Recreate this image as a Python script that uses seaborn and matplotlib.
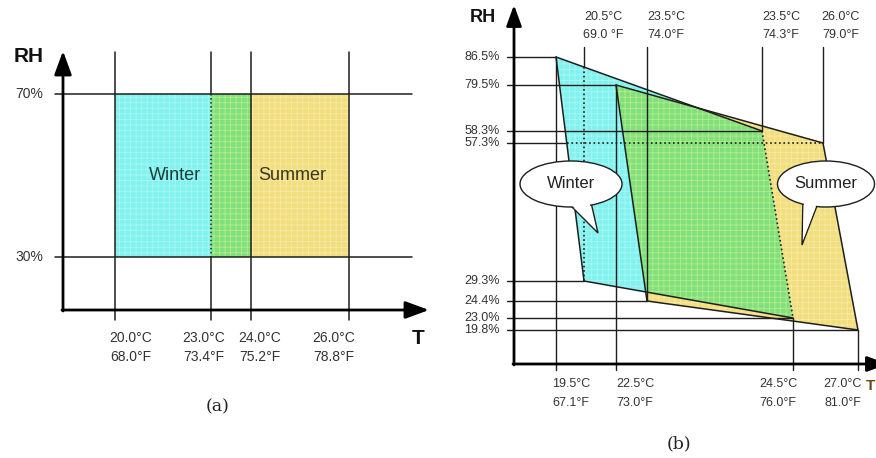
import numpy as np
import pandas as pd
import matplotlib.pyplot as plt
import seaborn as sns
from matplotlib.patches import Polygon, Ellipse

sns.set_theme(style="white")
plt.rcParams['font.family'] = ['Liberation Sans', 'DejaVu Sans']
plt.rcParams['hatch.linewidth'] = 0.6

# ---------------- panel (a) values ----------------
a_temp_c = [20.0, 23.0, 24.0, 26.0]
a_temp_f = [68.0, 73.4, 75.2, 78.8]
a_rh = [70, 30]
a_winter_t = [20.0, 24.0]
a_summer_t = [23.0, 26.0]

# ---------------- panel (b) values ----------------
b_rh = [86.5, 79.5, 58.3, 57.3, 29.3, 24.4, 23.0, 19.8]
b_temp_c = [19.5, 20.5, 22.5, 23.5, 23.5, 24.5, 26.0, 27.0]
b_temp_f = [67.1, 69.0, 73.0, 74.0, 74.3, 76.0, 79.0, 81.0]
winter_f = [67.1, 74.3, 76.0, 69.0]
winter_rh = [86.5, 58.3, 23.0, 29.3]
summer_f = [73.0, 79.0, 81.0, 74.0]
summer_rh = [79.5, 57.3, 19.8, 24.4]

# schematic layout (diagram is not to scale), in figure pixels
a_x = [115, 211, 251, 349]
a_y = [94, 257]
a_lab_x = [131, 204, 260, 334]
b_x = [556, 584, 616, 647, 762, 793, 823, 858]
b_y = [57, 85, 131, 143, 281, 301, 318, 330]
b_lab_x = [571, 603, 635, 666, 781, 778, 841, 843]
b_lab_top = [False, True, False, True, True, False, True, False]

CYAN, GREEN, YELLOW = '#82F2EE', '#80E07E', '#F2DE7C'
LINE = '#1e1e1e'
TXT = '#333333'

ax_pos = dict(zip(a_temp_c, a_x))
ay_pos = dict(zip(a_rh, a_y))
bx_pos = dict(zip(b_temp_f, b_x))
by_pos = dict(zip(b_rh, b_y))

fig = plt.figure(figsize=(8.76, 4.58), dpi=100)
ax = fig.add_axes([0, 0, 1, 1])


def seg_frame(segs):
    rows = []
    for i, (xs, ys) in enumerate(segs):
        for x, y in zip(xs, ys):
            rows.append({'x': x, 'y': y, 'seg': i})
    return pd.DataFrame(rows)


def draw_segs(segs, ls='-', lw=1.0, z=3):
    if not segs:
        return
    df = seg_frame(segs)
    sns.lineplot(data=df, x='x', y='y', units='seg', estimator=None, sort=False,
                 color=LINE, linewidth=lw, linestyle=ls, legend=False, ax=ax, zorder=z)


def fill_poly(verts, color, hatch_color, clip=None, z=2):
    p = Polygon(verts, closed=True, facecolor=color, edgecolor='none', lw=0, zorder=z)
    h = Polygon(verts, closed=True, fill=False, hatch='+++', edgecolor=hatch_color, lw=0, zorder=z + 0.05)
    ax.add_patch(p)
    ax.add_patch(h)
    if clip is not None:
        p.set_clip_path(clip)
        h.set_clip_path(clip)
    return p


def arrow(start, tip, lw=2.0, scale=16):
    ax.annotate('', xy=tip, xytext=start, annotation_clip=False,
                arrowprops=dict(arrowstyle='-|>,head_length=0.9,head_width=0.33',
                                color='black', lw=lw, mutation_scale=scale,
                                shrinkA=0, shrinkB=0), zorder=6)


# ================= panel (a) =================
ya0, ya1 = ay_pos[70], ay_pos[30]
win_a = [(ax_pos[a_winter_t[0]], ya0), (ax_pos[a_winter_t[1]], ya0),
         (ax_pos[a_winter_t[1]], ya1), (ax_pos[a_winter_t[0]], ya1)]
sum_a = [(ax_pos[a_summer_t[0]], ya0), (ax_pos[a_summer_t[1]], ya0),
         (ax_pos[a_summer_t[1]], ya1), (ax_pos[a_summer_t[0]], ya1)]
fill_poly(win_a, CYAN, '#A6F7F4')
sum_patch_a = fill_poly(sum_a, YELLOW, '#F7E9A8', z=2.1)
fill_poly(win_a, GREEN, '#B4EC86', clip=sum_patch_a, z=2.2)

solid, dotted = [], []
for t, x in zip(a_temp_c, a_x):
    if t == a_summer_t[0]:
        solid += [([x, x], [52, ya0]), ([x, x], [ya1, 320])]
        dotted.append(([x, x], [ya0, ya1]))
    else:
        solid.append(([x, x], [52, 320]))
for r, y in zip(a_rh, a_y):
    solid.append(([55, 412], [y, y]))
draw_segs(solid, lw=1.1)
draw_segs(dotted, ls=':', lw=1.1)

arrow((63, 311), (63, 51))
arrow((62, 310), (429, 310))

ax.text(29, 56, 'RH', fontsize=15, fontweight='bold', ha='center', va='center', color='#111')
ax.text(418, 338, 'T', fontsize=15, fontweight='bold', ha='center', va='center', color='#111')
for r, y in zip(a_rh, a_y):
    ax.text(43, y, f'{r}%', fontsize=10, ha='right', va='center', color=TXT)
for c, f, x in zip(a_temp_c, a_temp_f, a_lab_x):
    ax.text(x, 338, f'{c:.1f}°C', fontsize=10, ha='center', va='center', color=TXT)
    ax.text(x, 357, f'{f:.1f}°F', fontsize=10, ha='center', va='center', color=TXT)
ax.text(175, 175, 'Winter', fontsize=13, ha='center', va='center', color='#1c3b3b', zorder=5)
ax.text(292, 175, 'Summer', fontsize=13, ha='center', va='center', color='#3a3520', zorder=5)
ax.text(218, 407, '(a)', fontsize=12.5, family='DejaVu Serif', ha='center', va='center', color='#222')

# ================= panel (b) =================
win_b = [(bx_pos[f], by_pos[r]) for f, r in zip(winter_f, winter_rh)]
sum_b = [(bx_pos[f], by_pos[r]) for f, r in zip(summer_f, summer_rh)]
fill_poly(win_b, CYAN, '#A6F7F4')
sum_patch_b = fill_poly(sum_b, YELLOW, '#F7E9A8', z=2.1)
fill_poly(win_b, GREEN, '#B4EC86', clip=sum_patch_b, z=2.2)

# polygon outlines (winter right edge dotted where it crosses the summer zone)
w = win_b + [win_b[0]]
outline = [([w[i][0], w[i + 1][0]], [w[i][1], w[i + 1][1]]) for i in range(4) if i != 1]
s = sum_b + [sum_b[0]]
outline += [([s[i][0], s[i + 1][0]], [s[i][1], s[i + 1][1]]) for i in range(4)]
draw_segs(outline, lw=1.1, z=3.5)
draw_segs([([w[1][0], w[2][0]], [w[1][1], w[2][1]])], ls=':', lw=1.2, z=3.5)

# guide lines
vert_rh = dict(zip(winter_f + summer_f, winter_rh + summer_rh))
solid, dotted = [], []
for f, x, top in zip(b_temp_f, b_x, b_lab_top):
    yv = by_pos[vert_rh[f]]
    if f == 69.0:
        # enters the winter zone through its top edge, dotted inside
        y_in = np.interp(x, [win_b[0][0], win_b[1][0]], [win_b[0][1], win_b[1][1]])
        solid.append(([x, x], [47, y_in]))
        dotted.append(([x, x], [y_in, yv]))
    elif top:
        solid.append(([x, x], [47, yv]))
    else:
        solid.append(([x, x], [yv, 370]))
rh_vert = {r: f for f, r in vert_rh.items()}
for r, y in zip(b_rh, b_y):
    xv = bx_pos[rh_vert[r]]
    if r == 57.3:
        x_in = np.interp(y, [win_b[0][1], win_b[3][1]], [win_b[0][0], win_b[3][0]])
        solid.append(([507, x_in], [y, y]))
        dotted.append(([x_in, xv], [y, y]))
    else:
        solid.append(([507, xv], [y, y]))
draw_segs(solid, lw=1.0)
draw_segs(dotted, ls=':', lw=1.2)

arrow((514, 365), (514, 5), scale=14)
arrow((513, 364), (888, 364), scale=14)

ax.text(483, 18, 'RH', fontsize=13, fontweight='bold', ha='center', va='center', color='#111')
ax.text(875, 386, 'T', fontsize=11, fontweight='bold', ha='right', va='center', color='#6a4a10')
for r, y in zip(b_rh, b_y):
    ax.text(500, y, f'{r}%', fontsize=9, ha='right', va='center', color=TXT)
for c, f, x, top in zip(b_temp_c, b_temp_f, b_lab_x, b_lab_top):
    y1, y2 = (17, 35) if top else (384, 403)
    ftxt = f'{f:.1f} °F' if f == 69.0 else f'{f:.1f}°F'
    ax.text(x, y1, f'{c:.1f}°C', fontsize=9, ha='center', va='center', color=TXT)
    ax.text(x, y2, ftxt, fontsize=9, ha='center', va='center', color=TXT)
ax.text(679, 444, '(b)', fontsize=12.5, family='DejaVu Serif', ha='center', va='center', color='#222')


def bubble(cx, cy, bw, bh, tail, label):
    tail = np.array(tail, dtype=float)
    ax.add_patch(Polygon(tail, closed=True, facecolor='white', edgecolor=LINE, lw=1, zorder=5))
    ax.add_patch(Ellipse((cx, cy), bw, bh, facecolor='white', edgecolor=LINE, lw=1, zorder=6))
    cen = tail.mean(axis=0)
    inner = cen + (tail - cen) * 0.82
    ax.add_patch(Polygon(inner, closed=True, facecolor='white', edgecolor='none', zorder=7))
    ax.text(cx, cy - 1, label, fontsize=12, ha='center', va='center', color='#222', zorder=8)


bubble(571, 184, 102, 46, [(563, 198), (598, 233), (590, 198)], 'Winter')
bubble(826, 184, 97, 46, [(803, 198), (802, 245), (820, 198)], 'Summer')

ax.set_xlim(0, 876)
ax.set_ylim(458, 0)
ax.axis('off')
fig.savefig('out.png', dpi=100, facecolor='white')
